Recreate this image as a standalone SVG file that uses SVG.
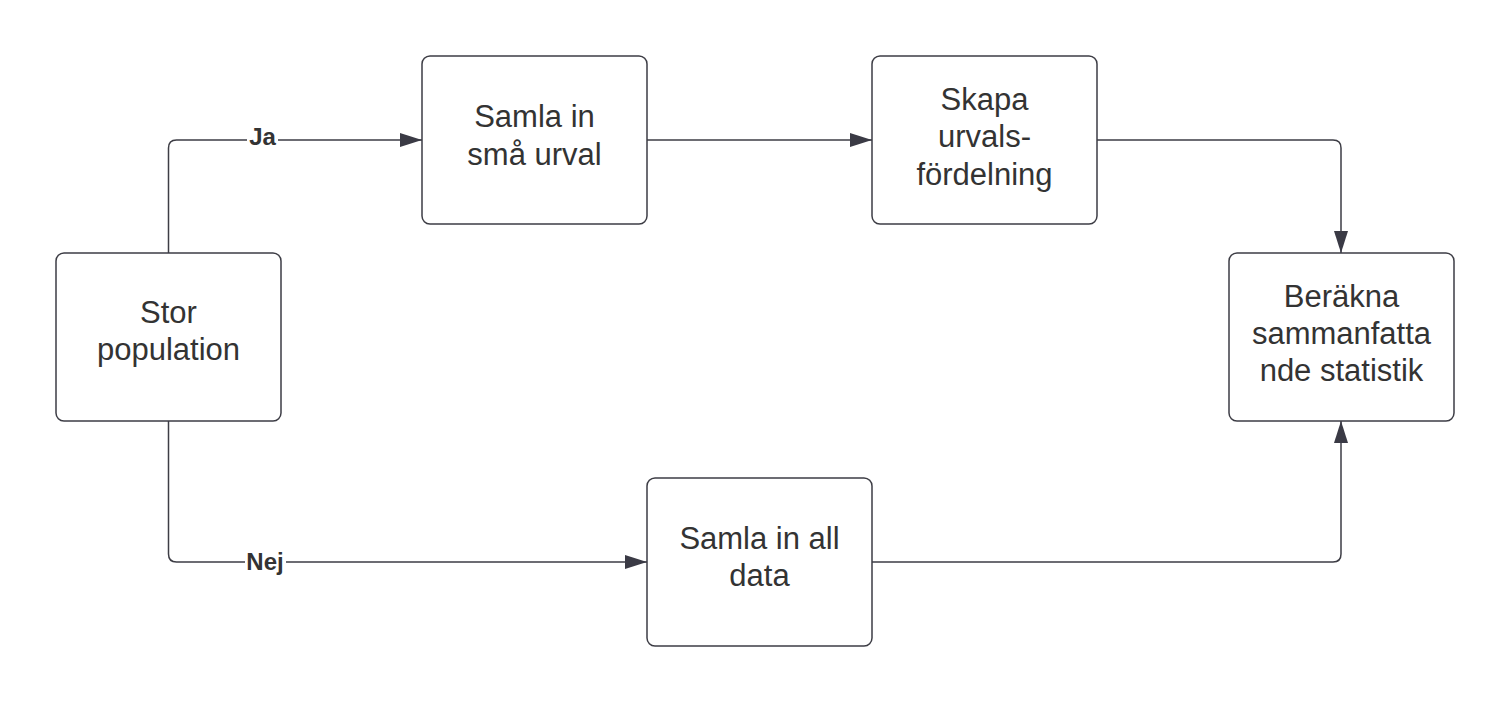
<svg xmlns="http://www.w3.org/2000/svg" width="1510" height="704" viewBox="0 0 1510 704">
<defs>
<style>
.box{fill:#ffffff;stroke:#3d3d45;stroke-width:1.5}
.t{font-family:"Liberation Sans",Arial,sans-serif;font-size:31px;fill:#333333;text-anchor:middle}
.c{fill:none;stroke:#3d3d45;stroke-width:1.5}
.lbl{font-family:"Liberation Sans",Arial,sans-serif;font-size:24px;font-weight:bold;fill:#333333;text-anchor:middle}
</style>
<marker id="ah" viewBox="0 0 22 14" refX="22" refY="7" markerWidth="22" markerHeight="14" markerUnits="userSpaceOnUse" orient="auto">
<path d="M0,0 L22,7 L0,14 Z" fill="#3a3a45"/>
</marker>
</defs>
<rect width="1510" height="704" fill="#ffffff"/>
<g id="connectors">
<path class="c" d="M168.5,253 V148 Q168.5,140 176.5,140 H422" marker-end="url(#ah)"/>
<path class="c" d="M168.5,421 V554 Q168.5,562 176.5,562 H647" marker-end="url(#ah)"/>
<path class="c" d="M647,140 H872" marker-end="url(#ah)"/>
<path class="c" d="M1097,140 H1333 Q1341,140 1341,148 V253" marker-end="url(#ah)"/>
<path class="c" d="M872,562 H1333 Q1341,562 1341,554 V421" marker-end="url(#ah)"/>
<rect x="247" y="124" width="31" height="24" fill="#ffffff"/>
<text class="lbl" x="262.5" y="145">Ja</text>
<rect x="245" y="548" width="41" height="26" fill="#ffffff"/>
<text class="lbl" x="265" y="570">Nej</text>
</g>
<g id="stor">
<rect class="box" x="56" y="253" width="225" height="168" rx="8"/>
<text class="t" x="168.5" y="323">Stor</text>
<text class="t" x="168.5" y="360">population</text>
</g>
<g id="samla-sma">
<rect class="box" x="422" y="56" width="225" height="168" rx="8"/>
<text class="t" x="534.5" y="127">Samla in</text>
<text class="t" x="534.5" y="165">små urval</text>
</g>
<g id="skapa">
<rect class="box" x="872" y="56" width="225" height="168" rx="8"/>
<text class="t" x="984.5" y="110">Skapa</text>
<text class="t" x="984.5" y="147">urvals-</text>
<text class="t" x="984.5" y="185">fördelning</text>
</g>
<g id="berakna">
<rect class="box" x="1229" y="253" width="225" height="168" rx="8"/>
<text class="t" x="1341.5" y="307">Beräkna</text>
<text class="t" x="1341.5" y="344">sammanfatta</text>
<text class="t" x="1341.5" y="381">nde statistik</text>
</g>
<g id="samla-all">
<rect class="box" x="647" y="478" width="225" height="168" rx="8"/>
<text class="t" x="759.5" y="549">Samla in all</text>
<text class="t" x="759.5" y="586">data</text>
</g>
</svg>
